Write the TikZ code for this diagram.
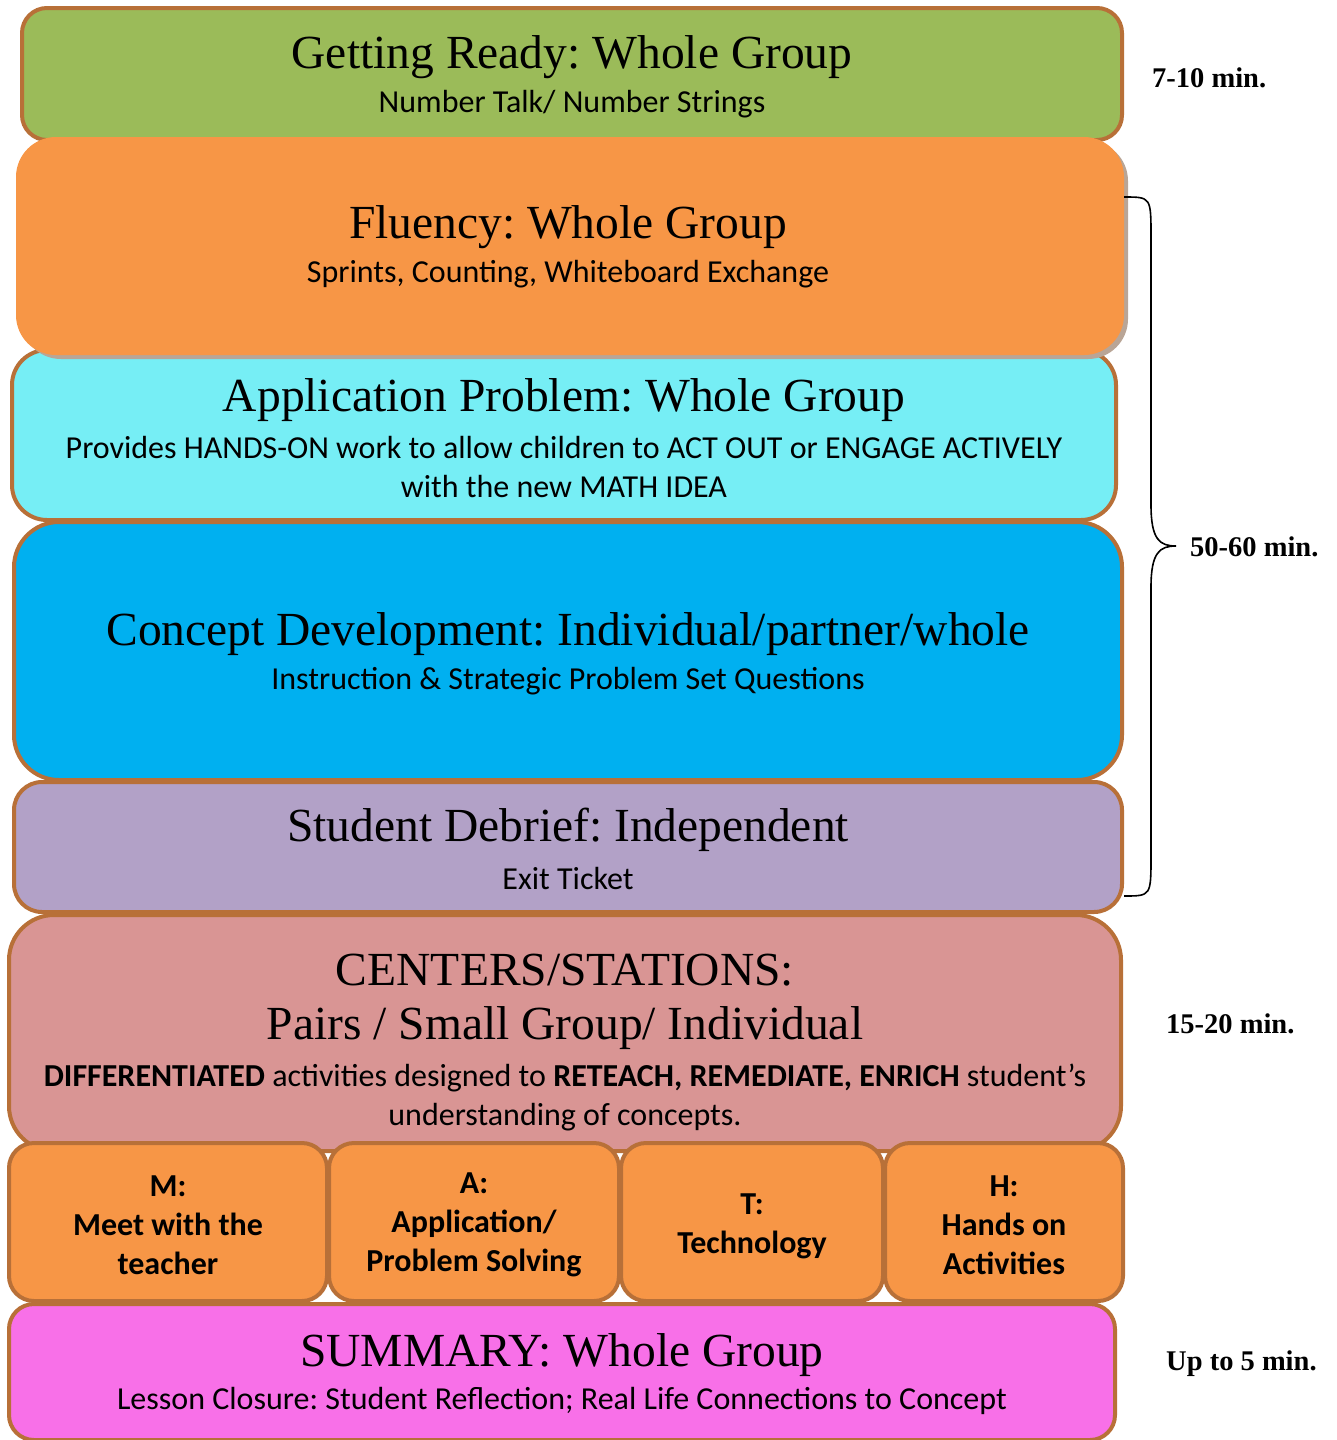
\documentclass[tikz,border=0pt]{standalone}
\usepackage{fontspec}
\setmainfont{Liberation Serif}
\newfontfamily\bodyfont{Carlito}
\frenchspacing
\definecolor{brd}{RGB}{184,112,56}
\definecolor{cgreen}{RGB}{155,187,89}
\definecolor{corange}{RGB}{247,150,70}
\definecolor{ccyan}{RGB}{118,238,245}
\definecolor{cblue}{RGB}{0,176,240}
\definecolor{cpurple}{RGB}{178,161,199}
\definecolor{cpink}{RGB}{217,149,148}
\definecolor{cmag}{RGB}{248,112,232}
\definecolor{cshadow}{RGB}{185,165,150}
\tikzset{
  box/.style={draw=brd, line width=4pt, rectangle, inner sep=0pt},
  head/.style={font=\fontsize{47.5}{52}\selectfont, inner sep=0pt},
  sub/.style={font=\bodyfont\fontsize{32}{39}\selectfont, inner sep=0pt, align=center},
  small/.style={font=\bodyfont\bfseries\fontsize{32}{39}\selectfont, inner sep=0pt, align=center},
  tlab/.style={font=\bfseries\fontsize{28.5}{32}\selectfont, inner sep=0pt, anchor=west},
}
\begin{document}
\begin{tikzpicture}[x=1pt,y=-1pt]
\useasboundingbox (0,0) rectangle (1336,1440);
% boxes
\node[box, fill=cgreen, minimum width=1100pt, minimum height=132pt, rounded corners=25pt] (ready) at (572,74) {};
\node[box, fill=ccyan, minimum width=1104pt, minimum height=170pt, rounded corners=35pt] (app) at (564,435) {};
\fill[cshadow, rounded corners=40pt] (21,141) rectangle (1128,359);
\node[rectangle, fill=corange, minimum width=1108pt, minimum height=218pt, rounded corners=40pt, inner sep=0pt] (flu) at (570,246) {};
\node[box, fill=cblue, minimum width=1108pt, minimum height=258pt, rounded corners=45pt] (con) at (568,651) {};
\node[box, fill=cpurple, minimum width=1108pt, minimum height=130pt, rounded corners=28pt] (deb) at (568,847) {};
\node[box, fill=cpink, minimum width=1112pt, minimum height=236pt, rounded corners=45pt] (cen) at (565,1033) {};
\node[box, fill=corange, minimum width=318pt, minimum height=158pt, rounded corners=25pt] (m) at (168,1222) {};
\node[box, fill=corange, minimum width=290pt, minimum height=158pt, rounded corners=25pt] (a) at (474,1222) {};
\node[box, fill=corange, minimum width=262pt, minimum height=158pt, rounded corners=25pt] (t) at (752,1222) {};
\node[box, fill=corange, minimum width=238pt, minimum height=158pt, rounded corners=25pt] (h) at (1004,1222) {};
\node[box, fill=cmag, minimum width=1106pt, minimum height=136pt, rounded corners=25pt] (sum) at (562,1372) {};
% texts
\node[head] (readyH) at (572,57) {Getting Ready: Whole Group};
\node[sub] (readyS) at (572,104) {Number Talk/ Number Strings};
\node[head] (fluH) at (568,227) {Fluency: Whole Group};
\node[sub] (fluS) at (568,274) {Sprints, Counting, Whiteboard Exchange};
\node[head] (appH) at (564,400) {Application Problem: Whole Group};
\node[sub] (appS) at (564,467) {Provides HANDS-ON work to allow children to ACT OUT or ENGAGE ACTIVELY\\with the new MATH IDEA};
\node[head] (conH) at (568,634) {Concept Development: Individual/partner/whole};
\node[sub] (conS) at (568,681) {Instruction \& Strategic Problem Set Questions};
\node[head] (debH) at (568,830) {Student Debrief: Independent};
\node[sub] (debS) at (568,878) {Exit Ticket};
\node[head, align=center, font=\fontsize{47.5}{54}\selectfont] (cenH) at (565,1002) {CENTERS/STATIONS:\\Pairs / Small Group/ Individual};
\node[sub] (cenS) at (565,1097) {\textbf{DIFFERENTIATED} activities designed to \textbf{RETEACH, REMEDIATE, ENRICH} student’s\\understanding of concepts.};
\node[small] (mT) at (168,1225) {M:\\Meet with the\\teacher};
\node[small] (aT) at (474,1225) {A:\\Application/\\Problem Solving};
\node[small] (tT) at (752,1226) {T:\\Technology};
\node[small] (hT) at (1004,1225) {H:\\Hands on\\Activities};
\node[head] (sumH) at (562,1355) {SUMMARY: Whole Group};
\node[sub] (sumS) at (562,1401) {Lesson Closure: Student Reflection; Real Life Connections to Concept};
% time labels
\node[tlab] (t1) at (1152,78) {7-10 min.};
\node[tlab] (t2) at (1190,547) {50-60 min.};
\node[tlab] (t3) at (1166,1024) {15-20 min.};
\node[tlab] (t4) at (1166,1364) {Up to 5 min.};
% brace
\coordinate (bt) at (1124,197);
\coordinate (bb) at (1124,896);
\coordinate (btip) at (1176,546);
\draw[line width=1.6pt] (bt) .. controls (1151,197) .. (1151,237) -- (1151,505) .. controls (1151,540) and (1160,546) .. (btip)
  .. controls (1160,546) and (1151,552) .. (1151,587) -- (1151,856) .. controls (1151,896) .. (bb);
\end{tikzpicture}
\end{document}
